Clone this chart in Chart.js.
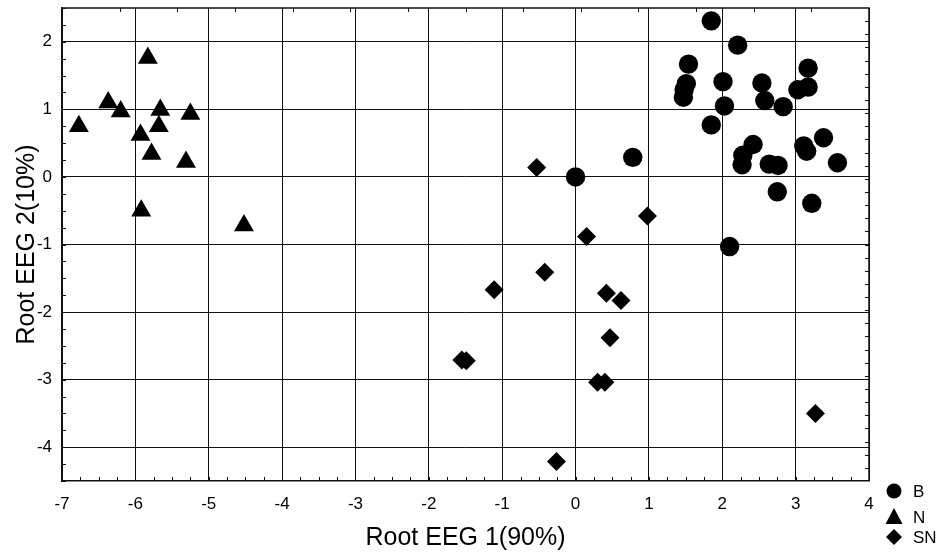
<!DOCTYPE html>
<html>
<head>
<meta charset="utf-8">
<script src="https://cdn.jsdelivr.net/npm/chart.js@4/dist/chart.umd.min.js"></script>
<style>
  html,body{margin:0;padding:0;background:#fff}
  #wrap{width:942px;height:553px}
</style>
</head>
<body>
<div id="wrap"><canvas id="chart" width="942" height="553"></canvas></div>
<script>
// axis ticks
const xTicks = [-7,-6,-5,-4,-3,-2,-1,0,1,2,3,4];
const yTicks = [-4,-3,-2,-1,0,1,2];

// group B (circles)
const bX = [1.85,2.21,1.54,1.51,1.48,1.47,2.01,2.03,1.85,2.54,2.58,2.83,3.17,3.03,3.17,3.38,3.11,3.15,3.57,2.42,2.28,2.27,2.64,2.76,2.75,3.22,2.10,0.78,0.00];
const bY = [2.31,1.95,1.67,1.38,1.29,1.18,1.41,1.05,0.77,1.39,1.13,1.04,1.61,1.29,1.33,0.58,0.46,0.38,0.21,0.48,0.32,0.18,0.19,0.17,-0.22,-0.39,-1.03,0.29,0.00];

// group N (triangles)
const nX = [-6.77,-6.37,-6.20,-5.83,-5.66,-5.25,-5.68,-5.93,-5.78,-5.31,-5.92,-4.52];
const nY = [0.75,1.10,0.97,1.76,0.99,0.93,0.75,0.62,0.34,0.22,-0.50,-0.72];

// group SN (diamonds)
const snX = [-0.53,0.15,-0.42,-1.11,0.42,0.62,0.47,-1.55,-1.49,0.30,0.40,-0.26,0.98,3.27];
const snY = [0.14,-0.88,-1.41,-1.67,-1.72,-1.83,-2.38,-2.71,-2.72,-3.04,-3.04,-4.21,-0.58,-3.50];

const groups = ['B','N','SN'];
const FONT = '"Liberation Sans", Arial, sans-serif';
const PLOT_TOP = 8;

const pts = (xs,ys)=>xs.map((x,i)=>({x, y: ys[i]}));

// frame, inner minor ticks and the marker legend
const framePlugin = {
  id:'frame',
  afterLayout(chart){
    // pin the top of the plot box
    const a = chart.chartArea, y = chart.scales.y;
    a.top = PLOT_TOP; a.height = a.bottom - a.top;
    y.top = PLOT_TOP; y.height = y.bottom - y.top;
    y.configure();
  },
  afterDraw(chart){
    const {ctx, chartArea:a, scales:{x, y}} = chart;
    ctx.save();
    ctx.strokeStyle = '#111';
    ctx.lineWidth = 1.5;
    ctx.beginPath();
    ctx.moveTo(a.left, a.top); ctx.lineTo(a.right, a.top); ctx.lineTo(a.right, a.bottom);
    ctx.stroke();

    ctx.lineWidth = 1;
    ctx.beginPath();
    for(let v = x.min; v <= x.max + 1e-9; v += 0.25){
      const px = Math.round(x.getPixelForValue(v)) + 0.5;
      ctx.moveTo(px, a.bottom); ctx.lineTo(px, a.bottom - 4);
    }
    for(let v = y.min; v <= y.max + 1e-9; v += 0.25){
      const py = Math.round(y.getPixelForValue(v)) + 0.5;
      ctx.moveTo(a.left, py); ctx.lineTo(a.left + 4, py);
    }
    const w = a.right - a.left, h = a.bottom - a.top;
    for(let i = 1; i < 14; i++){
      const px = Math.round(a.left + w*i/14) + 0.5;
      ctx.moveTo(px, a.top); ctx.lineTo(px, a.top + 4);
    }
    for(let i = 1; i < 36; i++){
      const py = Math.round(a.top + h*i/36) + 0.5;
      ctx.moveTo(a.right, py); ctx.lineTo(a.right - 4, py);
    }
    ctx.stroke();

    // legend
    ctx.fillStyle = '#000';
    ctx.font = '17px ' + FONT;
    ctx.textBaseline = 'middle';
    const mx = a.right + 25, tx = a.right + 44;
    const rows = [a.bottom + 10, a.bottom + 36, a.bottom + 56];
    groups.forEach((g, i)=>{
      const cy = rows[i];
      ctx.beginPath();
      if(i === 0){ ctx.arc(mx, cy, 7.5, 0, Math.PI*2); }
      else if(i === 1){ ctx.moveTo(mx, cy - 9); ctx.lineTo(mx + 8.5, cy + 7); ctx.lineTo(mx - 8.5, cy + 7); ctx.closePath(); }
      else { ctx.moveTo(mx, cy - 8); ctx.lineTo(mx + 8, cy); ctx.lineTo(mx, cy + 8); ctx.lineTo(mx - 8, cy); ctx.closePath(); }
      ctx.fill();
      ctx.fillText(g, tx, cy + 1);
    });
    ctx.restore();
  }
};

new Chart(document.getElementById('chart'), {
  type:'scatter',
  data:{
    datasets:[
      {label:groups[0], data:pts(bX,bY), pointStyle:'circle', pointRadius:9.7, backgroundColor:'#000', borderColor:'#000', borderWidth:0},
      {label:groups[1], data:pts(nX,nY), pointStyle:'triangle', pointRadius:11.5, backgroundColor:'#000', borderColor:'#000', borderWidth:0},
      {label:groups[2], data:pts(snX,snY), pointStyle:'rectRot', pointRadius:9.5, backgroundColor:'#000', borderColor:'#000', borderWidth:0}
    ]
  },
  options:{
    responsive:false,
    devicePixelRatio:1,
    animation:false,
    layout:{padding:{top:8, right:73, left:0, bottom:0}},
    plugins:{legend:{display:false}, tooltip:{enabled:false}},
    scales:{
      x:{
        type:'linear', min:-7, max:4,
        afterBuildTicks: s=>{ s.ticks = xTicks.map(v=>({value:v})); },
        afterFit: s=>{ s.height = 72; s.paddingLeft = 0; s.paddingRight = 0; },
        grid:{color:'#111', drawTicks:false},
        border:{color:'#111', width:1.5},
        ticks:{padding:13, color:'#000', font:{family:FONT, size:17}},
        title:{display:true, text:'Root EEG 1(90%)', color:'#000', padding:0, font:{family:FONT, size:25}}
      },
      y:{
        type:'linear', min:-4.5, max:2.5,
        afterBuildTicks: s=>{ s.ticks = yTicks.map(v=>({value:v})); },
        afterFit: s=>{ s.width = 62; s.paddingTop = 0; s.paddingBottom = 0; },
        grid:{color:'#111', drawTicks:false},
        border:{color:'#111', width:1.5},
        ticks:{padding:10, color:'#000', font:{family:FONT, size:17}},
        title:{display:true, text:'Root EEG 2(10%)', color:'#000', padding:{top:12, bottom:0}, font:{family:FONT, size:25}}
      }
    }
  },
  plugins:[framePlugin]
});
</script>
</body>
</html>
